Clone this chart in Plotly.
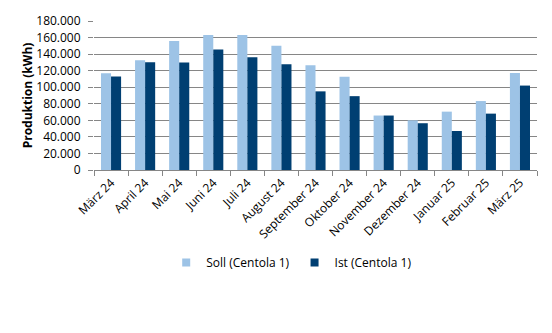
import plotly.graph_objects as go

# Monthly production, Centola 1 (kWh)
months = ["März 24", "April 24", "Mai 24", "Juni 24", "Juli 24", "August 24",
          "September 24", "Oktober 24", "November 24", "Dezember 24",
          "Januar 25", "Februar 25", "März 25"]
soll = [117000, 132500, 155800, 163000, 163000, 150000, 126600, 112600,
        65800, 60000, 70500, 83300, 117200]
ist = [112900, 130100, 130000, 145600, 136300, 127800, 95000, 89200,
       65800, 56500, 47100, 68100, 102000]

series_names = ["Soll (Centola 1)", "Ist (Centola 1)"]
series_colors = ["#9DC3E6", "#003F72"]

y_ticks = list(range(0, 180001, 20000))
y_tick_text = ["0" if v == 0 else f"{v // 1000}.000" for v in y_ticks]

font_family = "'Open Sans', 'Liberation Sans', Arial, sans-serif"
grid_col = "#868686"

fig = go.Figure()
for name, vals, col in zip(series_names, [soll, ist], series_colors):
    fig.add_trace(go.Bar(name=name, x=months, y=vals, showlegend=False,
                         marker=dict(color=col, line=dict(width=0))))
# small square legend keys
for name, col in zip(series_names, series_colors):
    fig.add_trace(go.Scatter(name=name, x=[None], y=[None], mode="markers",
                             marker=dict(symbol="square", size=8, color=col),
                             showlegend=True))

fig.update_layout(
    width=552, height=333,
    margin=dict(l=94, r=15, t=16, b=163),
    paper_bgcolor="white", plot_bgcolor="white",
    barmode="group", bargap=0.41, bargroupgap=0,
    font=dict(family=font_family, size=12, color="#000000"),
    showlegend=True,
    legend=dict(orientation="h", x=0.163, xanchor="left", y=-0.62, yanchor="middle",
                font=dict(size=12), itemwidth=30, traceorder="normal",
                tracegroupgap=0),
    xaxis=dict(
        tickangle=-45, showgrid=False,
        showline=True, linecolor=grid_col, linewidth=1,
        ticks="outside", tickson="boundaries", ticklen=5, tickcolor=grid_col,
        tickfont=dict(size=12),
    ),
    yaxis=dict(
        range=[0, 180000], tickvals=y_ticks, ticktext=y_tick_text,
        showgrid=True, gridcolor=grid_col, gridwidth=1,
        zeroline=False, showline=False,
        ticks="outside", ticklen=5, tickcolor=grid_col,
        ticklabelstandoff=5,
        tickfont=dict(size=12),
        title=dict(text="<b>Produktion (kWh)</b>", font=dict(size=12), standoff=1),
    ),
)

fig.write_html("out.html")
